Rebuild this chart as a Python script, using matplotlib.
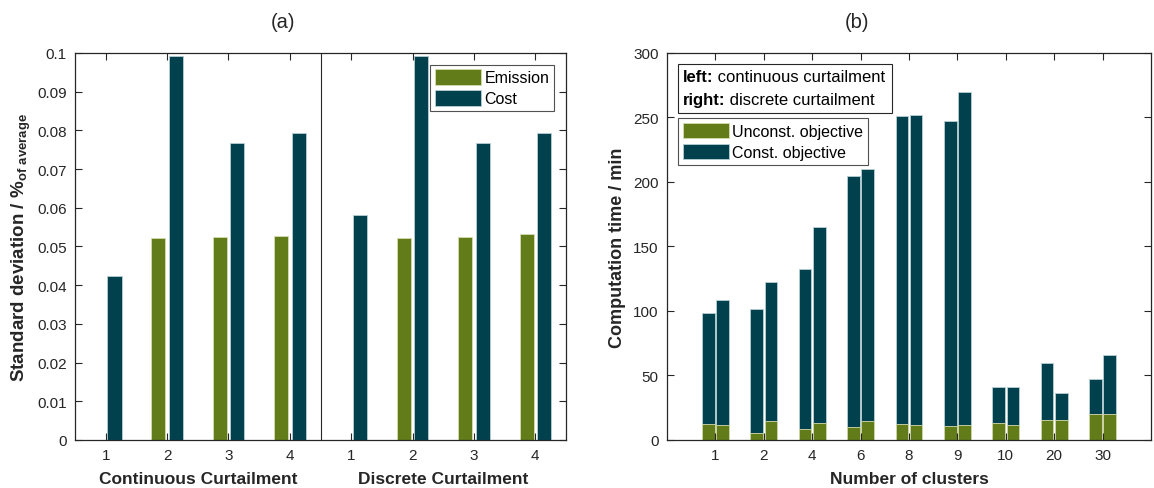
import numpy as np
import matplotlib
matplotlib.use("Agg")
import matplotlib.pyplot as plt
from matplotlib.patches import Rectangle

plt.rcParams['font.family'] = ['Liberation Sans', 'DejaVu Sans']
plt.rcParams['mathtext.fontset'] = 'custom'
plt.rcParams['mathtext.rm'] = 'Liberation Sans'
plt.rcParams['mathtext.bf'] = 'Liberation Sans:bold'

GREEN = '#617c19'
TEAL = '#01414d'
EDGE = '#b8cfd4'
AX = '#262626'

# (a) standard deviation, % of average
curt_labels = ['1', '2', '3', '4']
cont_emission = [0.0, 0.0522, 0.0525, 0.0527]
cont_cost = [0.0425, 0.0993, 0.0767, 0.0794]
disc_emission = [0.0, 0.0522, 0.0525, 0.0532]
disc_cost = [0.0582, 0.0993, 0.0767, 0.0794]

# (b) computation time / min, left = continuous, right = discrete
clusters = ['1', '2', '4', '6', '8', '9', '10', '20', '30']
const_cont = [98.5, 101.6, 132.7, 204.8, 251.2, 247.3, 41.0, 59.6, 47.2]
const_disc = [108.9, 122.6, 165.2, 210.0, 251.7, 269.6, 40.7, 36.3, 66.1]
unconst_cont = [12.2, 5.7, 8.3, 10.1, 12.2, 10.9, 13.0, 15.6, 20.2]
unconst_disc = [11.7, 14.8, 13.0, 14.8, 11.7, 11.7, 11.7, 15.6, 20.0]

fig = plt.figure(figsize=(11.54, 4.89), dpi=100)
ax1 = fig.add_axes([0.0650, 0.0982, 0.4255, 0.7914])
ax2 = fig.add_axes([0.578, 0.0982, 0.4194, 0.7914])


def style_axes(ax):
    for s in ax.spines.values():
        s.set_color(AX)
        s.set_linewidth(0.9)
    ax.tick_params(direction='in', top=True, right=True, length=5, width=0.8,
                   color=AX, labelcolor=AX, labelsize=11, pad=6)


# ---- panel (a)
off, w = 0.143, 0.229
x = np.arange(1, 9)
emis = cont_emission + disc_emission
cost = cont_cost + disc_cost
ax1.bar(x - off, emis, w, color=GREEN, edgecolor='#d6dcb0', linewidth=0.6, label='Emission')
ax1.bar(x + off, cost, w, color=TEAL, edgecolor=EDGE, linewidth=0.6, label='Cost')
ax1.axvline(4.5, color=AX, linewidth=0.8)
ax1.set_xlim(0.5, 8.5)
ax1.set_ylim(0, 0.1)
ax1.set_xticks(x)
ax1.set_xticklabels(curt_labels + curt_labels)
ax1.set_yticks(np.arange(0, 0.101, 0.01))
ax1.set_yticklabels(['0'] + ['%.2f' % v for v in np.arange(0.01, 0.095, 0.01)] + ['0.1'])
style_axes(ax1)
ax1.set_ylabel(r'Standard deviation / %$_{\mathbf{of\ average}}$', fontsize=13.5,
               fontweight='bold', color=AX, labelpad=3)
ax1.text(0.25, -0.1, 'Continuous Curtailment', transform=ax1.transAxes, ha='center',
         va='center', fontsize=12.5, fontweight='bold', color=AX)
ax1.text(0.75, -0.1, 'Discrete Curtailment', transform=ax1.transAxes, ha='center',
         va='center', fontsize=12.5, fontweight='bold', color=AX)
leg1 = ax1.legend(loc='upper right', bbox_to_anchor=(0.976, 0.97), borderaxespad=0,
                  fancybox=False, fontsize=11.5, handlelength=2.9, handleheight=1.1,
                  handletextpad=0.2, labelspacing=0.3, borderpad=0.3)
leg1.get_frame().set_edgecolor(AX)
leg1.get_frame().set_linewidth(0.8)

# ---- panel (b)
off2, w2 = 0.145, 0.26
xc = np.arange(1, len(clusters) + 1)
ax2.bar(xc - off2, const_cont, w2, color=TEAL, edgecolor=EDGE, linewidth=0.6, label='Const. objective')
ax2.bar(xc + off2, const_disc, w2, color=TEAL, edgecolor=EDGE, linewidth=0.6)
ax2.bar(xc - off2, unconst_cont, w2, color=GREEN, edgecolor='#d6dcb0', linewidth=0.6, label='Unconst. objective')
ax2.bar(xc + off2, unconst_disc, w2, color=GREEN, edgecolor='#d6dcb0', linewidth=0.6)
ax2.set_xlim(0, 10)
ax2.set_ylim(0, 300)
ax2.set_xticks(xc)
ax2.set_xticklabels(clusters)
ax2.set_yticks(np.arange(0, 301, 50))
style_axes(ax2)
ax2.set_ylabel('Computation time / min', fontsize=13, fontweight='bold', color=AX, labelpad=5)
ax2.text(0.5, -0.1, 'Number of clusters', transform=ax2.transAxes, ha='center',
         va='center', fontsize=12.5, fontweight='bold', color=AX)
h, l = ax2.get_legend_handles_labels()
leg2 = ax2.legend(h[::-1], l[::-1], loc='upper left', bbox_to_anchor=(0.023, 0.832),
                  borderaxespad=0, fancybox=False, fontsize=11.5, handlelength=2.9,
                  handleheight=1.1, handletextpad=0.2, labelspacing=0.3, borderpad=0.3)
leg2.get_frame().set_edgecolor(AX)
leg2.get_frame().set_linewidth(0.8)

# note box: bold key word followed by regular text
ax2.add_patch(Rectangle((0.0227, 0.845), 0.4423, 0.127, transform=ax2.transAxes,
                        facecolor='white', edgecolor=AX, linewidth=0.8, zorder=4))
for yy, key, rest in [(0.938, 'left:', ' continuous curtailment'),
                      (0.881, 'right:', ' discrete curtailment')]:
    t = ax2.text(0.032, yy, key, transform=ax2.transAxes, ha='left', va='center',
                 fontsize=12, fontweight='bold', color='black', zorder=5)
    ax2.annotate(rest, xy=(1, 0.5), xycoords=t, ha='left', va='center',
                 fontsize=12, color='black', zorder=5)

fig.text(283 / 1154, 1 - 22 / 489, '(a)', ha='center', va='center', fontsize=14.5, color=AX)
fig.text(857 / 1154, 1 - 22 / 489, '(b)', ha='center', va='center', fontsize=14.5, color=AX)

fig.savefig('out.png', dpi=100)
